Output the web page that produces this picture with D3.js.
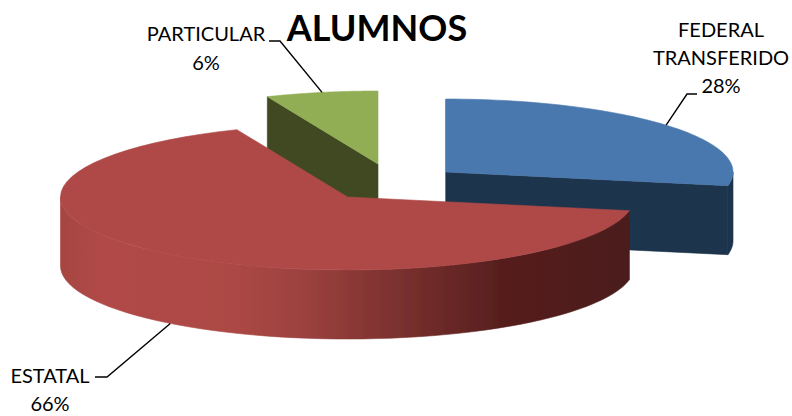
<!DOCTYPE html>
<html>
<head>
<meta charset="utf-8">
<script src="https://cdn.jsdelivr.net/npm/d3@7"></script>
<style>
html,body{margin:0;padding:0;background:#fff}
svg{display:block}
text{font-family:Lato,"Open Sans",sans-serif;fill:#000}
</style>
</head>
<body>
<svg id="c" width="792" height="416"></svg>
<script>
const categories = ["FEDERAL TRANSFERIDO", "ESTATAL", "PARTICULAR"];
const values = [28, 65.7, 6.3];
const labelLines = [["FEDERAL", "TRANSFERIDO", "28%"], ["ESTATAL", "66%"], ["PARTICULAR", "6%"]];
const title = "ALUMNOS";
const topColors = ["#4a78ae", "#af4a47", "#92ae55"];
const sideColors = ["#1f344d", "#af4a47", "#404a22"];
const wallStops = [[61,"#a64542"],[100,"#b04a47"],[230,"#ad4845"],[300,"#9d423f"],[400,"#7a302e"],[500,"#571f1e"],[630,"#4b1c1b"]];

// layout of the exploded slices (projected 3D pie)
const rx = 287, ry = 73, depth = 69;
const centers = [[446,172],[347.5,197],[378,164]];

const svg = d3.select("#c");
const defs = svg.append("defs");
const grad = defs.append("linearGradient").attr("id","wall")
  .attr("gradientUnits","userSpaceOnUse").attr("x1",61).attr("x2",630).attr("y1",0).attr("y2",0);
grad.selectAll("stop").data(wallStops).join("stop")
  .attr("offset",d=>(d[0]-61)/(630-61)).attr("stop-color",d=>d[1]);
defs.append("filter").attr("id","soft").append("feGaussianBlur").attr("stdDeviation",0.5);

const arcs = d3.pie().sort(null).value(d=>d)(values);
const line = d3.line();
const proj = (c,a,dz=0)=>[c[0]+rx*Math.sin(a), c[1]-ry*Math.cos(a)+dz];
const arcPts = (c,a0,a1,dz=0)=>d3.range(0,61).map(i=>proj(c,a0+(a1-a0)*i/60,dz));

function topFace(i){
  const c=centers[i], a=arcs[i];
  return line([c,...arcPts(c,a.startAngle,a.endAngle)])+"Z";
}
function cutFace(i,ang){
  const c=centers[i], p=proj(c,ang);
  return line([c,p,[p[0],p[1]+depth],[c[0],c[1]+depth]])+"Z";
}
function outerWall(i){
  const c=centers[i], a=arcs[i];
  const s=Math.max(a.startAngle,Math.PI/2), e=Math.min(a.endAngle,Math.PI*1.5);
  return line([...arcPts(c,s,e),...arcPts(c,e,s,depth)])+"Z";
}
const g=svg.append("g").attr("filter","url(#soft)");
const path=(d,fill)=>g.append("path").attr("d",d).attr("fill",fill).attr("stroke",fill).attr("stroke-width",0.6);

// Blue slice
path(cutFace(0,arcs[0].endAngle),sideColors[0]);
path(outerWall(0),sideColors[0]);
path(cutFace(0,0),sideColors[0]);
path(topFace(0),topColors[0]);
// Green slice
path(cutFace(2,arcs[2].startAngle),sideColors[2]);
path(topFace(2),topColors[2]);
// Red slice
path(outerWall(1),"url(#wall)");
path(topFace(1),topColors[1]);

// Leader lines, anchored on the slices
const leaderAngle=[0.874, 3.807, 6.087];
const elbows=[[[687,94],[697,94]],[[107,377],[95,377]],[[280,41],[269,41]]];
leaderAngle.forEach((a,i)=>{
  const p=i===1?proj(centers[1],a,depth):proj(centers[i],a);
  svg.append("path").attr("d",line([p,...elbows[i]])).attr("fill","none")
    .attr("stroke","#000").attr("stroke-width",1.4);
});

// Labels
const labelAnchor=[[721,37,28],[50,383,28],[206,41,28.5]];
labelLines.forEach((lines,i)=>{
  const t=svg.append("text").attr("text-anchor","middle").attr("font-size",20);
  lines.forEach((l,j)=>t.append("tspan").attr("x",labelAnchor[i][0])
    .attr("y",labelAnchor[i][1]+j*labelAnchor[i][2]).text(l));
});
svg.append("text").attr("x",377).attr("y",41).attr("text-anchor","middle")
  .attr("font-size",36).attr("font-weight",700).text(title);
</script>
</body>
</html>
